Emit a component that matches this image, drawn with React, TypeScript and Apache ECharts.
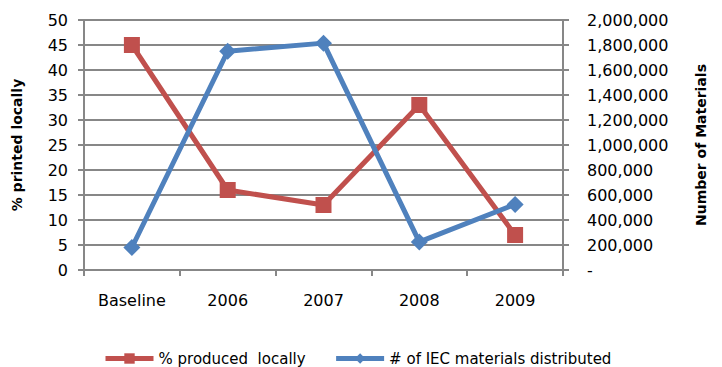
import React, { useEffect, useRef } from "react";
import * as echarts from "echarts";

const categories = ["Baseline", "2006", "2007", "2008", "2009"];
const pctProducedLocally = [45, 16, 13, 33, 7];
const iecMaterials = [180000, 1750000, 1815000, 225000, 525000];

const FONT = "'DejaVu Sans', sans-serif";
const GRID_GREY = "#878787";
const RED = "#C0504D";
const BLUE = "#4F81BD";

export default function App() {
  const ref = useRef<HTMLDivElement>(null);

  useEffect(() => {
    if (!ref.current) return;
    const chart = echarts.init(ref.current, undefined, { renderer: "svg" });
    chart.setOption({
      animation: false,
      backgroundColor: "#ffffff",
      textStyle: { fontFamily: FONT },
      grid: { left: 84, right: 159, top: 20, bottom: 97 },
      legend: {
        left: 98,
        top: 346,
        itemWidth: 48,
        itemHeight: 13,
        itemGap: 28,
        lineStyle: { width: 5 },
        textStyle: { fontFamily: FONT, fontSize: 15, color: "#000" },
        data: ["% produced  locally", "# of IEC materials distributed"],
      },
      xAxis: {
        type: "category",
        data: categories,
        boundaryGap: true,
        axisLine: { lineStyle: { color: GRID_GREY, width: 2 } },
        axisTick: { show: true, length: 6, lineStyle: { color: GRID_GREY, width: 2 } },
        axisLabel: { color: "#000", fontSize: 16, margin: 22, fontFamily: FONT },
      },
      yAxis: [
        {
          type: "value",
          min: 0,
          max: 50,
          interval: 5,
          name: "% printed locally",
          nameLocation: "middle",
          nameGap: 60,
          nameRotate: 90,
          nameTextStyle: { fontWeight: "bold", fontSize: 14, color: "#000", fontFamily: FONT },
          axisLine: { show: true, lineStyle: { color: GRID_GREY, width: 2 } },
          axisTick: { show: true, length: 6, lineStyle: { color: GRID_GREY, width: 2 } },
          axisLabel: { color: "#000", fontSize: 16, margin: 16, fontFamily: FONT },
          splitLine: { show: true, lineStyle: { color: GRID_GREY, width: 2 } },
        },
        {
          type: "value",
          min: 0,
          max: 2000000,
          interval: 200000,
          name: "Number of Materials",
          nameLocation: "middle",
          nameGap: 131,
          nameRotate: 90,
          nameTextStyle: { fontWeight: "bold", fontSize: 14, color: "#000", fontFamily: FONT },
          axisLine: { show: true, lineStyle: { color: GRID_GREY, width: 2 } },
          axisTick: { show: true, length: 6, lineStyle: { color: GRID_GREY, width: 2 } },
          axisLabel: {
            color: "#000",
            fontSize: 16,
            margin: 24,
            fontFamily: FONT,
            formatter: (v: number) => (v === 0 ? "-" : v.toLocaleString("en-US")),
          },
          splitLine: { show: false },
        },
      ],
      series: [
        {
          name: "% produced  locally",
          type: "line",
          yAxisIndex: 0,
          data: pctProducedLocally,
          symbol: "rect",
          symbolSize: 16,
          color: RED,
          lineStyle: { width: 5, color: RED },
          itemStyle: { color: RED },
          z: 2,
        },
        {
          name: "# of IEC materials distributed",
          type: "line",
          yAxisIndex: 1,
          data: iecMaterials,
          symbol: "diamond",
          symbolSize: 17,
          color: BLUE,
          lineStyle: { width: 5, color: BLUE },
          itemStyle: { color: BLUE },
          z: 3,
        },
      ],
    });
    return () => chart.dispose();
  }, []);

  return (
    <div
      ref={ref}
      style={{ position: "fixed", left: 0, top: 0, width: 722, height: 367, background: "#fff" }}
    />
  );
}
